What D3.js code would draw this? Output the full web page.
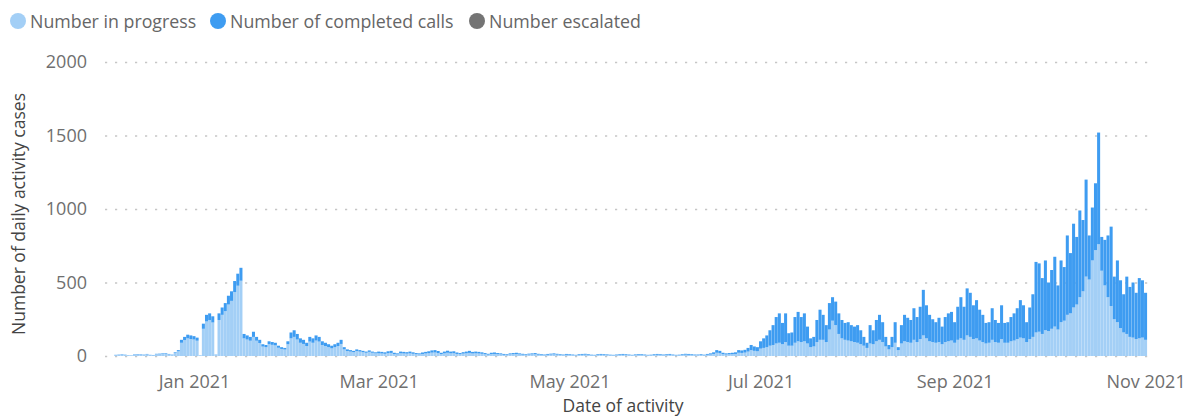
<!DOCTYPE html>
<html>
<head>
<meta charset="utf-8">
<script src="https://cdn.jsdelivr.net/npm/d3@7"></script>
<style>
  html, body { margin: 0; padding: 0; background: #ffffff; }
  svg { display: block; font-family: "Open Sans", "Noto Sans", sans-serif; }
</style>
</head>
<body>
<svg id="chart" width="1190" height="416"></svg>
<script>
// ---- Data: one value per day, starting on firstDay ----
const firstDay = "2020-12-07";

const seriesKeys   = ["inProgress", "completed", "escalated"];
const seriesLabels = ["Number in progress", "Number of completed calls", "Number escalated"];
const seriesColors = ["#a3cff6", "#3e9cf1", "#747474"];

const inProgress = [
  6,8,9,7,5,4,8,10,9,8,11,6,5,12,12,14,16,11,8,20,32,90,108,120,115,                 // Dec 7-31
  112,104,4,185,235,245,228,8,245,280,305,350,375,435,478,512,120,112,104,130,104,88,64,60,80,76,72,56,48,44,80, // Jan
  120,130,112,90,82,68,98,90,105,98,75,68,60,52,60,68,82,45,34,30,26,34,30,26,22,28,22,18, // Feb
  18,17,15,19,21,13,11,18,17,16,18,15,12,11,14,17,19,23,24,20,13,18,22,18,19,14,12,16,18,21,17, // Mar
  18,17,15,12,9,13,14,12,11,8,7,11,12,13,11,9,7,10,11,12,9,7,6,8,10,11,9,7,6,8,      // Apr
  7,6,5,7,8,9,7,5,5,7,8,8,7,5,5,6,7,8,7,6,5,7,8,7,6,5,5,7,8,7,6,                      // May
  7,8,6,5,5,7,9,8,7,6,6,7,5,8,10,14,22,19,12,10,11,12,14,22,21,23,30,40,35,32,       // Jun
  50,55,60,70,75,85,90,80,95,70,70,90,100,95,100,85,60,65,95,110,110,95,180,240,210,150,120,110,105,100,95, // Jul
  90,80,70,55,85,80,100,110,95,65,45,60,90,40,85,100,95,90,110,95,115,140,120,100,95,90,95,80,95,100,105, // Aug
  90,110,120,110,140,130,115,120,105,95,85,90,110,95,90,115,90,90,100,105,115,125,120,95,115,130,160,165,150,175, // Sep
  170,185,200,180,230,240,280,290,330,350,400,440,540,520,650,720,760,580,480,400,340,250,230,190,160,150,130,125,115,120,125, // Oct
  110                                                                                  // Nov 1
];

const completed = [
  2,2,3,2,1,1,3,3,3,2,3,2,2,3,4,4,4,3,2,5,8,20,22,25,25,                              // Dec 7-31
  23,21,1,35,45,45,42,2,45,50,55,60,65,75,82,88,30,28,26,35,26,22,16,15,20,19,18,14,12,11,20, // Jan
  40,45,38,30,28,22,32,30,35,32,25,22,20,18,20,22,28,15,11,10,9,11,10,9,8,10,8,7,     // Feb
  12,11,10,13,14,9,7,12,11,10,12,10,8,7,10,11,13,15,16,14,9,12,14,12,13,10,8,10,12,14,11, // Mar
  12,11,10,8,6,9,10,8,7,6,5,7,8,9,7,6,5,6,7,8,6,5,4,6,6,7,6,5,4,6,                    // Apr
  5,4,3,5,6,6,5,4,3,5,6,5,4,4,3,4,5,6,5,4,3,4,5,5,4,3,4,5,6,5,4,                      // May
  5,6,4,3,4,5,6,6,5,4,4,5,4,6,8,11,18,16,10,8,9,10,11,18,17,19,25,35,30,28,          // Jun
  50,65,80,105,135,180,200,145,195,85,90,175,200,170,190,115,60,65,150,205,170,115,180,160,160,140,125,115,125,110,105, // Jul
  120,95,60,35,125,95,145,170,135,65,30,70,140,20,125,180,165,155,215,170,220,310,225,180,155,140,165,120,170,190,195, // Aug
  140,225,280,225,320,300,230,260,210,185,140,140,215,150,135,230,135,140,165,185,210,255,225,135,215,290,480,465,380,475, // Sep
  330,400,475,300,420,365,540,410,570,460,590,485,660,300,360,455,760,230,310,420,540,290,420,325,260,390,340,375,315,410,390, // Oct
  320                                                                                  // Nov 1
];

const escalated = [
  0,0,0,0,0,0,0,0,0,0,0,0,0,0,0,0,0,0,0,0,0,0,0,0,0,                                  // Dec 7-31
  0,0,0,0,0,0,0,0,0,0,0,0,0,0,0,0,0,0,0,0,0,0,0,0,0,0,0,0,0,0,0,                      // Jan
  0,0,0,0,0,0,0,0,0,0,0,0,0,0,0,0,0,0,0,0,0,0,0,0,0,0,0,0,                            // Feb
  0,0,0,0,0,0,0,0,0,0,0,0,0,0,0,0,0,0,0,0,0,0,0,0,0,0,0,0,0,0,0,                      // Mar
  0,0,0,0,0,0,0,0,0,0,0,0,0,0,0,0,0,0,0,0,0,0,0,0,0,0,0,0,0,0,                        // Apr
  0,0,0,0,0,0,0,0,0,0,0,0,0,0,0,0,0,0,0,0,0,0,0,0,0,0,0,0,0,0,0,                      // May
  0,0,0,0,0,0,0,0,0,0,0,0,0,0,0,0,0,0,0,0,0,0,0,0,0,0,0,0,0,0,                        // Jun
  0,0,0,0,0,0,0,0,0,0,0,0,0,0,0,0,0,0,0,0,0,0,0,0,0,0,0,0,0,0,0,                      // Jul
  0,0,0,0,0,0,0,0,0,0,0,0,0,0,0,0,0,0,0,0,0,0,0,0,0,0,0,0,0,0,0,                      // Aug
  0,0,0,0,0,0,0,0,0,0,0,0,0,0,0,0,0,0,0,0,0,0,0,0,0,0,0,0,0,0,                        // Sep
  0,0,0,0,0,0,0,0,0,0,0,0,0,0,0,0,0,0,0,0,0,0,0,0,0,0,0,0,0,0,0,                      // Oct
  0                                                                                    // Nov 1
];

const yTicks = [0, 500, 1000, 1500, 2000];
const xTickDates = ["2021-01-01", "2021-03-01", "2021-05-01", "2021-07-01", "2021-09-01", "2021-11-01"];

const yTitle = "Number of daily activity cases";
const xTitle = "Date of activity";

// ---- Layout ----
const svg = d3.select("#chart");
const plot = { left: 105, right: 1150, top: 62, bottom: 356 };
const parseDay = d3.timeParse("%Y-%m-%d");
const start = parseDay(firstDay);

const rows = inProgress.map((v, i) => ({
  date: d3.timeDay.offset(start, i),
  inProgress: v,
  completed: completed[i],
  escalated: escalated[i]
}));

const x = d3.scaleTime()
  .domain([parseDay("2020-12-06"), parseDay("2021-11-02")])
  .range([112.6, 1148.7]);
const dayPx = x(parseDay("2021-01-02")) - x(parseDay("2021-01-01"));

const y = d3.scaleLinear().domain([0, 2000]).range([plot.bottom, plot.top]);

// Dotted horizontal gridlines
const grid = svg.append("g")
  .attr("transform", `translate(${plot.left},0)`)
  .call(d3.axisLeft(y).tickValues(yTicks).tickSize(-(plot.right - plot.left)).tickFormat(""));
grid.select(".domain").remove();
grid.selectAll("line")
  .attr("stroke", "#c6c6c6")
  .attr("stroke-width", 1.6)
  .attr("stroke-dasharray", "2.2,7.8");

// Stacked daily columns
const stacked = d3.stack().keys(seriesKeys)(rows);
const color = d3.scaleOrdinal().domain(seriesKeys).range(seriesColors);
const barW = dayPx - 0.1;

svg.append("g").selectAll("g")
  .data(stacked)
  .join("g")
  .attr("fill", d => color(d.key))
  .selectAll("rect")
  .data(d => d)
  .join("rect")
  .attr("x", d => x(d.data.date) - barW / 2)
  .attr("width", barW)
  .attr("y", d => y(d[1]))
  .attr("height", d => Math.max(0, y(d[0]) - y(d[1])));

// Y axis labels
const yAxis = svg.append("g")
  .attr("transform", "translate(91,0)")
  .call(d3.axisLeft(y).tickValues(yTicks).tickSize(0).tickPadding(4).tickFormat(d3.format("d")));
yAxis.select(".domain").remove();
yAxis.selectAll("text")
  .attr("fill", "#6f6f6f")
  .style("font-size", "18px")
  .style("font-family", "'Open Sans', sans-serif");

// X axis labels
const xAxis = svg.append("g")
  .attr("transform", `translate(0,${plot.bottom})`)
  .call(d3.axisBottom(x)
    .tickValues(xTickDates.map(parseDay))
    .tickSize(0)
    .tickPadding(19)
    .tickFormat(d3.timeFormat("%b %Y")));
xAxis.select(".domain").remove();
xAxis.selectAll("text")
  .attr("fill", "#6f6f6f")
  .style("font-size", "18px")
  .style("font-family", "'Open Sans', sans-serif");

// Axis titles
svg.append("text")
  .attr("transform", "translate(25,214) rotate(-90)")
  .attr("text-anchor", "middle")
  .attr("fill", "#444444")
  .style("font-size", "17.5px")
  .text(yTitle);

svg.append("text")
  .attr("x", 623)
  .attr("y", 412)
  .attr("text-anchor", "middle")
  .attr("fill", "#444444")
  .style("font-size", "17.5px")
  .text(xTitle);

// Legend
const legendX = [18, 218, 477];
const legend = svg.append("g").selectAll("g")
  .data(seriesKeys)
  .join("g")
  .attr("transform", (d, i) => `translate(${legendX[i]},21)`);
legend.append("circle")
  .attr("r", 8)
  .attr("fill", d => color(d));
legend.append("text")
  .attr("x", 12)
  .attr("y", 6.5)
  .attr("fill", "#666666")
  .style("font-size", "17.8px")
  .text((d, i) => seriesLabels[i]);
</script>
</body>
</html>
